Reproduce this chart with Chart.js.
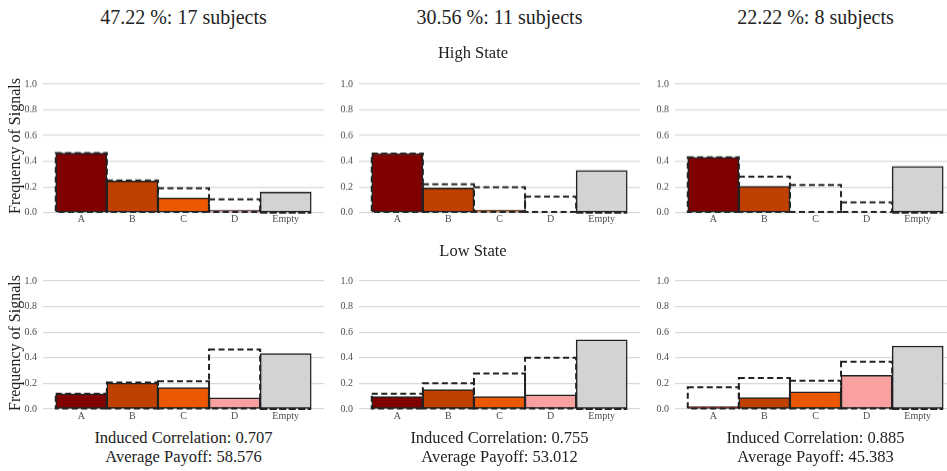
<!DOCTYPE html>
<html>
<head>
<meta charset="utf-8">
<script src="https://cdn.jsdelivr.net/npm/chart.js@4.4.1/dist/chart.umd.min.js"></script>
<style>
  html, body { margin: 0; padding: 0; background: #fff; overflow: hidden; }
  body { width: 947px; height: 471px; position: relative; font-family: "Liberation Serif", serif; color: #222; }
  .box { position: absolute; }
  .txt { position: absolute; white-space: nowrap; transform: translate(-50%, -50%); text-align: center; }
  .ylab { position: absolute; white-space: nowrap; transform: translate(-50%, -50%) rotate(-90deg); font-size: 16px; }
</style>
</head>
<body>
<script>
// categories on the x axis
const categories = ['A', 'B', 'C', 'D', 'Empty'];
const yTicks = [0, 0.2, 0.4, 0.6, 0.8, 1.0];

// group headers and footers
const groupTitles = ['47.22 %: 17 subjects', '30.56 %: 11 subjects', '22.22 %: 8 subjects'];
const correlations = ['0.707', '0.755', '0.885'];
const payoffs = ['58.576', '53.012', '45.383'];

// filled bars (observed) and dashed bars, high state
const highObs1 = [0.463, 0.246, 0.114, 0.02, 0.16];
const highDash1 = [0.463, 0.25, 0.19, 0.103, 0];
const highObs2 = [0.46, 0.19, 0.02, 0.005, 0.327];
const highDash2 = [0.46, 0.22, 0.197, 0.125, 0];
const highObs3 = [0.43, 0.205, 0, 0, 0.36];
const highDash3 = [0.43, 0.28, 0.215, 0.08, 0];

// low state
const lowObs1 = [0.118, 0.202, 0.167, 0.088, 0.432];
const lowDash1 = [0.12, 0.207, 0.217, 0.465, 0];
const lowObs2 = [0.098, 0.152, 0.098, 0.111, 0.54];
const lowDash2 = [0.119, 0.202, 0.278, 0.40, 0];
const lowObs3 = [0.018, 0.09, 0.134, 0.263, 0.492];
const lowDash3 = [0.17, 0.242, 0.22, 0.37, 0];

const barColors = ['#800000', '#c04000', '#ec5800', '#f9a0a0', '#d3d3d3'];

const plotLefts = [43, 359, 675];
const plotW = 281;
const rows = [
  { top: 80, h: 131.7, obs: [highObs1, highObs2, highObs3], dash: [highDash1, highDash2, highDash3] },
  { top: 277.3, h: 132, obs: [lowObs1, lowObs2, lowObs3], dash: [lowDash1, lowDash2, lowDash3] }
];

const Y_W = 45, PAD_T = 8, X_H = 16;

// draws the dashed outline bars on top of everything
const dashedBars = {
  id: 'dashedBars',
  afterDatasetsDraw(chart) {
    const ctx = chart.ctx;
    chart.data.datasets.forEach((ds, i) => {
      if (!ds.dashed) return;
      const meta = chart.getDatasetMeta(i);
      ctx.save();
      ctx.strokeStyle = '#222';
      ctx.lineWidth = 2;
      ctx.setLineDash([6, 3.5]);
      meta.data.forEach(el => {
        const p = el.getProps(['x', 'y', 'base', 'width'], true);
        ctx.strokeRect(p.x - p.width / 2, p.y, p.width, p.base - p.y);
      });
      ctx.restore();
    });
  }
};

function addText(txt, x, y, size) {
  const d = document.createElement('div');
  d.className = 'txt';
  d.style.left = x + 'px';
  d.style.top = y + 'px';
  d.style.fontSize = size + 'px';
  d.textContent = txt;
  document.body.appendChild(d);
}

function toPoints(arr) {
  return arr.map((v, i) => ({ x: i, y: v }));
}

function makePanel(left, top, h, obs, dash) {
  const box = document.createElement('div');
  box.className = 'box';
  box.style.left = (left - Y_W) + 'px';
  box.style.top = (top - PAD_T) + 'px';
  box.style.width = (Y_W + plotW) + 'px';
  box.style.height = (PAD_T + h + X_H) + 'px';
  const cv = document.createElement('canvas');
  box.appendChild(cv);
  document.body.appendChild(box);

  new Chart(cv, {
    type: 'bar',
    data: {
      datasets: [{
        data: toPoints(obs),
        backgroundColor: barColors,
        borderColor: '#222',
        borderWidth: 1.5,
        borderSkipped: false,
        grouped: false,
        order: 1
      }, {
        data: toPoints(dash),
        dashed: true,
        backgroundColor: 'rgba(0,0,0,0)',
        borderWidth: 0,
        grouped: false,
        order: 0
      }]
    },
    options: {
      responsive: true,
      maintainAspectRatio: false,
      animation: false,
      events: [],
      layout: { padding: { top: PAD_T, right: 0, left: 0, bottom: 0 } },
      datasets: { bar: { barPercentage: 1, categoryPercentage: 1 } },
      plugins: { legend: { display: false }, tooltip: { enabled: false } },
      scales: {
        x: {
          type: 'linear',
          min: -0.75, max: 4.75,
          offset: false,
          afterBuildTicks(s) { s.ticks = categories.map((c, i) => ({ value: i })); },
          grid: { display: false, drawTicks: false },
          border: { display: false },
          ticks: {
            color: '#4d4d4d', font: { family: 'Liberation Serif', size: 10 }, padding: 1, maxRotation: 0,
            autoSkip: false,
            callback: v => categories[v]
          },
          afterFit(s) { s.height = X_H; }
        },
        y: {
          min: 0, max: 1.0,
          afterBuildTicks(s) { s.ticks = yTicks.map(v => ({ value: v })); },
          grid: { color: '#d9d9d9', lineWidth: 1.2, drawTicks: false },
          border: { display: false },
          ticks: {
            color: '#4d4d4d', font: { family: 'Liberation Serif', size: 10 }, padding: 6,
            callback: v => Number(v).toFixed(1)
          },
          afterFit(s) { s.width = Y_W; }
        }
      }
    },
    plugins: [dashedBars]
  });
}

rows.forEach(r => {
  plotLefts.forEach((l, i) => makePanel(l, r.top, r.h, r.obs[i], r.dash[i]));
});

plotLefts.forEach((l, i) => {
  const cx = l + plotW / 2;
  addText(groupTitles[i], cx, 17, 20);
  addText('Induced Correlation: ' + correlations[i], cx, 438, 16.5);
  addText('Average Payoff: ' + payoffs[i], cx, 457, 16.5);
});
addText('High State', 473, 53, 16.5);
addText('Low State', 473, 251, 16.5);

[146, 343].forEach(y => {
  const d = document.createElement('div');
  d.className = 'ylab';
  d.style.left = '15px';
  d.style.top = y + 'px';
  d.textContent = 'Frequency of Signals';
  document.body.appendChild(d);
});
</script>
</body>
</html>
